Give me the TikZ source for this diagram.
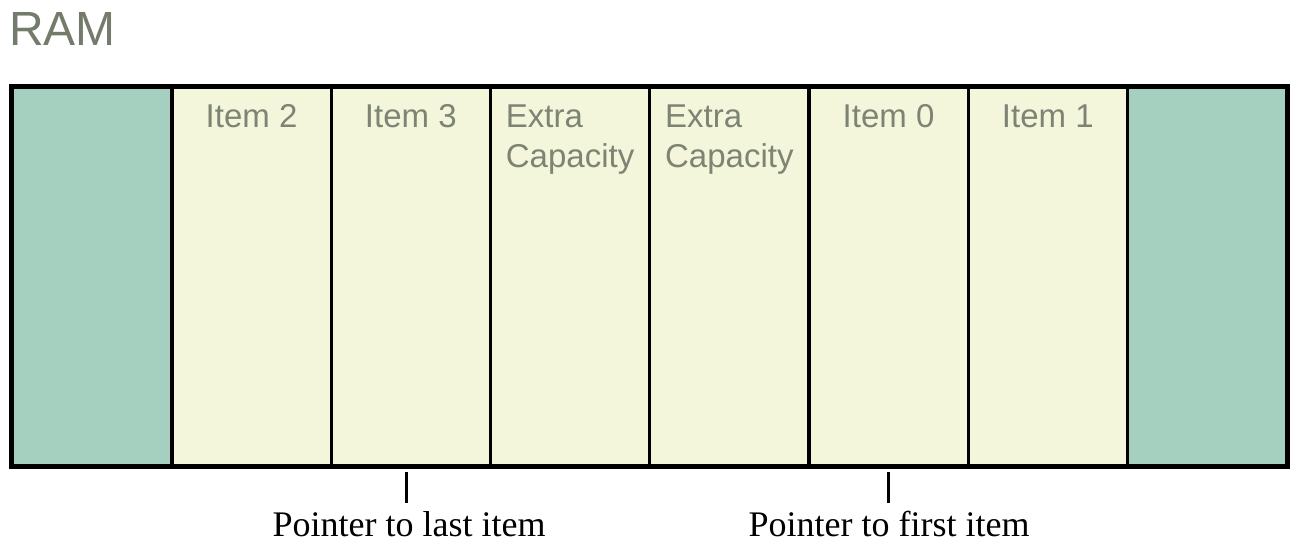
\documentclass[tikz,border=0pt]{standalone}
\usepackage{fontspec}
\setmainfont{Liberation Serif}
\newfontfamily\helv{Liberation Sans}
\definecolor{teal}{HTML}{A5CFBF}
\definecolor{cream}{HTML}{F4F6DC}
\definecolor{labgray}{HTML}{7E8473}
\definecolor{ramgray}{HTML}{737C6A}
\newcommand{\capstrut}{\rule{0pt}{26pt}}
\begin{document}
\begin{tikzpicture}[x=1pt,y=-1pt,
  cell/.style={draw=black,line width=3.4pt,minimum width=159.25pt,minimum height=378pt,inner sep=0pt,anchor=north west},
  celltxt/.style={font=\helv\fontsize{33}{40}\selectfont,text=labgray,align=left,anchor=north,inner sep=0pt},
  ptr/.style={font=\fontsize{36}{40}\selectfont,text=black,anchor=base,inner sep=0pt},
  tick/.style={line width=3pt}]
\useasboundingbox (0,0) rectangle (1296,555);
\node[font=\helv\fontsize{48}{50}\selectfont,text=ramgray,anchor=base west,inner sep=0pt] (ram) at (9,45) {RAM};
\foreach \i/\c in {0/teal,1/cream,2/cream,3/cream,4/cream,5/cream,6/cream,7/teal}{
  \node[cell,fill=\c] (c\i) at ({11+159.25*\i},86) {};
}
\draw[line width=4pt] (c0.north west) rectangle (c7.south east);
\node[celltxt] (t1) at ([yshift=-15pt]c1.north) {\capstrut Item 2};
\node[celltxt] (t2) at ([yshift=-15pt]c2.north) {\capstrut Item 3};
\node[celltxt] (t3) at ([yshift=-15pt]c3.north) {\capstrut Extra\\Capacity};
\node[celltxt] (t4) at ([yshift=-15pt]c4.north) {\capstrut Extra\\Capacity};
\node[celltxt] (t5) at ([yshift=-15pt]c5.north) {\capstrut Item 0};
\node[celltxt] (t6) at ([yshift=-15pt]c6.north) {\capstrut Item 1};
\coordinate (a1) at (406,472);
\coordinate (a2) at (406,503);
\coordinate (b1) at (888,472);
\coordinate (b2) at (888,503);
\draw[tick] (a1) -- (a2);
\draw[tick] (b1) -- (b2);
\node[ptr] (p1) at (409,536) {Pointer to last item};
\node[ptr] (p2) at (889,536) {Pointer to first item};
\end{tikzpicture}
\end{document}
